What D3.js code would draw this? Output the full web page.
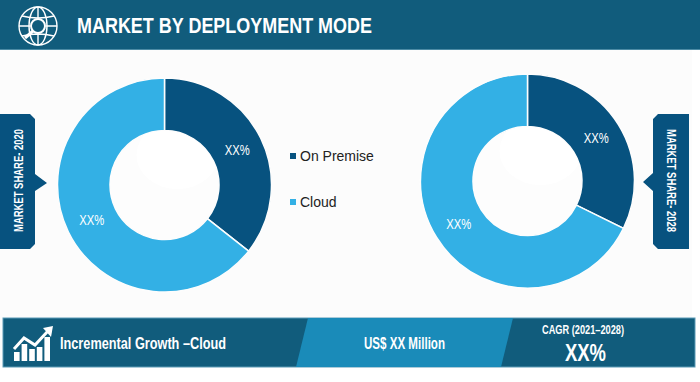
<!DOCTYPE html>
<html>
<head>
<meta charset="utf-8">
<script src="https://cdn.jsdelivr.net/npm/d3@7"></script>
<style>
html, body { margin: 0; padding: 0; background: #fff; overflow: hidden; }
text { font-family: "Liberation Sans", sans-serif; }
</style>
</head>
<body>
<script>
// Chart data
const categories = ["On Premise", "Cloud"];
const share2020 = [35.6, 64.4];
const share2028 = [32.3, 67.7];
const sliceLabels = ["XX%", "XX%"];
const chartTitle = "MARKET BY DEPLOYMENT MODE";
const leftTag = "MARKET SHARE- 2020";
const rightTag = "MARKET SHARE- 2028";

const w = 700;
const h = 382;
const dark = "#115c7c";
const navy = "#07527f";
const sky = "#33b0e5";
const midBlue = "#1a8bb9";

const svg = d3.select("body").append("svg")
  .attr("width", w)
  .attr("height", h)
  .style("display", "block");

// No narrow font is installed, so condensed text is squeezed to the measured width
function addText(parent, str, x, y, size, width, bold) {
  return parent.append("text")
    .attr("x", x)
    .attr("y", y)
    .attr("fill", "#fff")
    .attr("font-size", size)
    .attr("font-weight", bold ? "bold" : "normal")
    .attr("textLength", width)
    .attr("lengthAdjust", "spacingAndGlyphs")
    .text(str);
}

// Page background, stops a little before the right edge
svg.append("rect").attr("x", 0).attr("y", 0).attr("width", 692).attr("height", 367).attr("fill", "#fcfcfc");

// Header band
svg.append("rect").attr("x", 0).attr("y", 0).attr("width", w).attr("height", 49).attr("fill", dark);
svg.append("rect").attr("x", 0).attr("y", 49).attr("width", w).attr("height", 1).attr("fill", "#4c8ba5");
addText(svg, chartTitle, 77, 33, 22.5, 295, true);

// Globe with magnifier icon
const globe = svg.append("g")
  .attr("transform", "translate(38,26)")
  .attr("fill", "none")
  .attr("stroke", "#fff")
  .attr("stroke-width", 1.4);
globe.append("circle").attr("r", 19);
globe.append("ellipse").attr("rx", 9).attr("ry", 19);
globe.append("path").attr("d", "M0,-19V-8M0,8V19M-16,-10Q0,-6 16,-10M-16,10Q0,6 16,10M-19,0H-8M8,0H19");
globe.append("circle").attr("r", 7).attr("stroke-width", 2).attr("fill", dark);
globe.append("path").attr("d", "M-5,5L-13,12").attr("stroke-width", 3);

// One donut per year
const pie = d3.pie().sort(null).value(d => d);
const colour = d3.scaleOrdinal().domain(categories).range([navy, sky]);

function drawDonut(id, cx, cy, values) {
  const arc = d3.arc().innerRadius(54.5).outerRadius(107);
  const labelArc = d3.arc().innerRadius(81).outerRadius(81);
  const g = svg.append("g").attr("transform", `translate(${cx},${cy})`);
  const slices = pie(values);
  g.selectAll("path")
    .data(slices)
    .enter()
    .append("path")
    .attr("d", arc)
    .attr("fill", (d, i) => colour(categories[i]))
    .attr("stroke", "#fdfdfd")
    .attr("stroke-width", 1.5);
  // Faint highlight inside the hole
  g.append("clipPath").attr("id", id)
    .append("circle").attr("r", 54);
  g.append("circle").attr("r", 54).attr("fill", "#fdfdfd");
  g.append("ellipse")
    .attr("cx", 13).attr("cy", -30)
    .attr("rx", 41).attr("ry", 34)
    .attr("fill", "#fff")
    .attr("clip-path", `url(#${id})`);
  slices.forEach((d, i) => {
    const c = labelArc.centroid(d);
    addText(g, sliceLabels[i], c[0], c[1], 14, 25, false)
      .attr("dy", "0.35em")
      .attr("text-anchor", "middle");
  });
}
drawDonut("hole2020", 164.5, 185, share2020);
drawDonut("hole2028", 527.5, 181, share2028);

// Legend
const legendY = d3.scaleBand().domain(categories).range([133, 225]);
const legend = svg.selectAll(".legend")
  .data(categories)
  .enter()
  .append("g")
  .attr("class", "legend")
  .attr("transform", d => `translate(290,${legendY(d) + legendY.bandwidth() / 2})`);
legend.append("rect").attr("x", 0).attr("y", -3).attr("width", 6).attr("height", 6).attr("fill", d => colour(d));
legend.append("text")
  .attr("x", 10).attr("y", 5)
  .attr("fill", "#222")
  .attr("font-size", 14)
  .text(d => d);

// Side tags
svg.append("path").attr("fill", navy)
  .attr("d", "M0,114H30L35,119V174L47,183L35,191V244L30,249H0Z");
addText(svg, leftTag, 0, 0, 12.5, 103, true)
  .attr("transform", "translate(23,180.5) rotate(-90)")
  .attr("text-anchor", "middle");
svg.append("path").attr("fill", navy)
  .attr("d", "M689,114H658L653,119V173L643,182L653,191V244L658,249H689Z");
addText(svg, rightTag, 0, 0, 12.5, 103, true)
  .attr("transform", "translate(667,180.5) rotate(90)")
  .attr("text-anchor", "middle");

// Bottom band
svg.append("rect").attr("x", 3).attr("y", 318).attr("width", 692).attr("height", 49)
  .attr("fill", dark).attr("stroke", "#5a9ab5").attr("stroke-width", 1);
svg.append("path").attr("fill", midBlue).attr("d", "M308,318H513L501,367H296Z");

// Growth icon
const barTops = [352, 344, 349, 347, 337];
const growth = svg.append("g");
growth.selectAll("rect")
  .data(barTops)
  .enter()
  .append("rect")
  .attr("x", (d, i) => 14 + i * 7.6)
  .attr("y", d => d)
  .attr("width", 5.6)
  .attr("height", d => 361 - d)
  .attr("fill", "#fff");
growth.append("path")
  .attr("d", "M14,349L24,338L35,345L48,331")
  .attr("fill", "none").attr("stroke", "#fff").attr("stroke-width", 3);
growth.append("path").attr("d", "M43,328L53,326L51,337Z").attr("fill", "#fff");

addText(svg, "Incremental Growth \u2013Cloud", 60, 348.5, 16, 166, true);
addText(svg, "US$ XX Million", 364, 348.5, 16, 81, true);
addText(svg, "CAGR (2021\u20132028)", 542, 334, 12, 82, true);
addText(svg, "XX%", 565, 361, 24, 41, true);
</script>
</body>
</html>
